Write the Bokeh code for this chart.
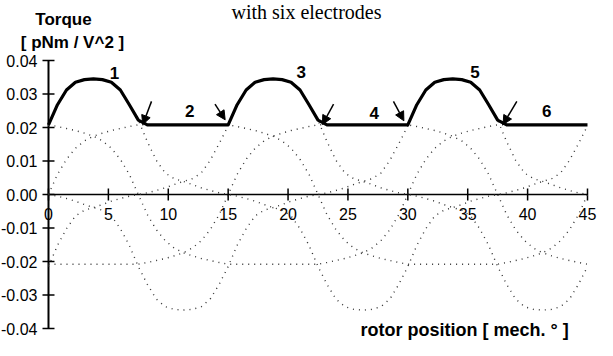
import numpy as np
from bokeh.plotting import figure
from bokeh.models import Range1d, Arrow, NormalHead, ColumnDataSource
from bokeh.core.properties import value
from bokeh.embed import file_html
from bokeh.resources import INLINE

# rotor position [mech. deg]
theta = [0, 0.75, 1.5, 2.25, 3, 3.75, 4.5, 5.25, 6, 6.75,
         7.5, 8.25, 9, 9.75, 10.5, 11.25, 12, 12.75, 13.5, 14.25,
         15, 15.75, 16.5, 17.25, 18, 18.75, 19.5, 20.25, 21, 21.75,
         22.5, 23.25, 24, 24.75, 25.5, 26.25, 27, 27.75, 28.5, 29.25,
         30, 30.75, 31.5, 32.25, 33, 33.75, 34.5, 35.25, 36, 36.75,
         37.5, 38.25, 39, 39.75, 40.5, 41.25, 42, 42.75, 43.5, 44.25,
         45]

# torque of each electrode [pNm / V^2]
e1 = [0.0205, 0.0268, 0.0312, 0.0335, 0.0343, 0.0345, 0.0343, 0.0335, 0.0312, 0.0268,
      0.0222, 0.0158, 0.0102, 0.0064, 0.0047, 0.0039, 0.0030, 0.0020, 0.0012, 0.0005,
      0.0, -0.0005, -0.0012, -0.0020, -0.0030, -0.0039, -0.0047, -0.0064, -0.0102, -0.0152,
      -0.0215, -0.0268, -0.0312, -0.0335, -0.0343, -0.0345, -0.0343, -0.0335, -0.0312, -0.0268,
      -0.0215, -0.0152, -0.0102, -0.0064, -0.0047, -0.0039, -0.0030, -0.0020, -0.0012, -0.0005,
      0.0, 0.0005, 0.0012, 0.0020, 0.0030, 0.0039, 0.0047, 0.0064, 0.0102, 0.0152,
      0.0205]
e3 = [-0.0215, -0.0152, -0.0102, -0.0064, -0.0047, -0.0039, -0.0030, -0.0020, -0.0012, -0.0005,
      0.0, 0.0005, 0.0012, 0.0020, 0.0030, 0.0039, 0.0047, 0.0064, 0.0102, 0.0152,
      0.0205, 0.0268, 0.0312, 0.0335, 0.0343, 0.0345, 0.0343, 0.0335, 0.0312, 0.0268,
      0.0222, 0.0158, 0.0102, 0.0064, 0.0047, 0.0039, 0.0030, 0.0020, 0.0012, 0.0005,
      0.0, -0.0005, -0.0012, -0.0020, -0.0030, -0.0039, -0.0047, -0.0064, -0.0102, -0.0152,
      -0.0215, -0.0268, -0.0312, -0.0335, -0.0343, -0.0345, -0.0343, -0.0335, -0.0312, -0.0268,
      -0.0215]
e5 = [0.0, -0.0005, -0.0012, -0.0020, -0.0030, -0.0039, -0.0047, -0.0064, -0.0102, -0.0152,
      -0.0215, -0.0268, -0.0312, -0.0335, -0.0343, -0.0345, -0.0343, -0.0335, -0.0312, -0.0268,
      -0.0215, -0.0152, -0.0102, -0.0064, -0.0047, -0.0039, -0.0030, -0.0020, -0.0012, -0.0005,
      0.0, 0.0005, 0.0012, 0.0020, 0.0030, 0.0039, 0.0047, 0.0064, 0.0102, 0.0152,
      0.0205, 0.0268, 0.0312, 0.0335, 0.0343, 0.0345, 0.0343, 0.0335, 0.0312, 0.0268,
      0.0222, 0.0158, 0.0102, 0.0064, 0.0047, 0.0039, 0.0030, 0.0020, 0.0012, 0.0005,
      0.0]
e2 = [0.0, 0.0060, 0.0105, 0.0138, 0.0160, 0.0174, 0.0183, 0.0191, 0.0197, 0.0203,
      0.0208, 0.0208, 0.0208, 0.0208, 0.0208, 0.0208, 0.0208, 0.0208, 0.0208, 0.0208,
      0.0208, 0.0203, 0.0197, 0.0191, 0.0183, 0.0174, 0.0160, 0.0138, 0.0105, 0.0060,
      0.0, -0.0060, -0.0105, -0.0138, -0.0160, -0.0174, -0.0183, -0.0191, -0.0197, -0.0203,
      -0.0208, -0.0208, -0.0208, -0.0208, -0.0208, -0.0208, -0.0208, -0.0208, -0.0208, -0.0208,
      -0.0208, -0.0203, -0.0197, -0.0191, -0.0183, -0.0174, -0.0160, -0.0138, -0.0105, -0.0060,
      0.0]
e4 = [-0.0208, -0.0208, -0.0208, -0.0208, -0.0208, -0.0208, -0.0208, -0.0208, -0.0208, -0.0208,
      -0.0208, -0.0203, -0.0197, -0.0191, -0.0183, -0.0174, -0.0160, -0.0138, -0.0105, -0.0060,
      0.0, 0.0060, 0.0105, 0.0138, 0.0160, 0.0174, 0.0183, 0.0191, 0.0197, 0.0203,
      0.0208, 0.0208, 0.0208, 0.0208, 0.0208, 0.0208, 0.0208, 0.0208, 0.0208, 0.0208,
      0.0208, 0.0203, 0.0197, 0.0191, 0.0183, 0.0174, 0.0160, 0.0138, 0.0105, 0.0060,
      0.0, -0.0060, -0.0105, -0.0138, -0.0160, -0.0174, -0.0183, -0.0191, -0.0197, -0.0203,
      -0.0208]
e6 = [0.0208, 0.0203, 0.0197, 0.0191, 0.0183, 0.0174, 0.0160, 0.0138, 0.0105, 0.0060,
      0.0, -0.0060, -0.0105, -0.0138, -0.0160, -0.0174, -0.0183, -0.0191, -0.0197, -0.0203,
      -0.0208, -0.0208, -0.0208, -0.0208, -0.0208, -0.0208, -0.0208, -0.0208, -0.0208, -0.0208,
      -0.0208, -0.0203, -0.0197, -0.0191, -0.0183, -0.0174, -0.0160, -0.0138, -0.0105, -0.0060,
      0.0, 0.0060, 0.0105, 0.0138, 0.0160, 0.0174, 0.0183, 0.0191, 0.0197, 0.0203,
      0.0208, 0.0208, 0.0208, 0.0208, 0.0208, 0.0208, 0.0208, 0.0208, 0.0208, 0.0208,
      0.0208]

yticks = [-0.04, -0.03, -0.02, -0.01, 0.0, 0.01, 0.02, 0.03, 0.04]
ytick_labels = ["-0.04", "-0.03", "-0.02", "-0.01", "0.00", "0.01", "0.02", "0.03", "0.04"]
xticks = [0, 5, 10, 15, 20, 25, 30, 35, 40, 45]
xtick_labels = ["0", "5", "10", "15", "20", "25", "30", "35", "40", "45"]

seg_labels = ["1", "2", "3", "4", "5", "6"]
seg_x = [5.5, 11.8, 21.1, 27.2, 35.6, 41.6]
seg_y = [0.0362, 0.0249, 0.0365, 0.0243, 0.0365, 0.0249]

arrow_x0 = [8.6, 13.9, 23.8, 28.8, 39.1]
arrow_y0 = [0.0278, 0.0270, 0.0270, 0.0278, 0.0278]
arrow_x1 = [7.87, 14.75, 22.87, 29.67, 37.95]
arrow_y1 = [0.0209, 0.0223, 0.0209, 0.0220, 0.0209]

curves = [e1, e2, e3, e4, e5, e6]
envelope = np.max(np.array(curves), axis=0)

SANS = value("Liberation Sans")

# the frame fills the whole canvas; axes are drawn inside it
p = figure(width=597, height=340, x_range=Range1d(-4.007, 45.835), y_range=Range1d(-0.04358, 0.05791),
           output_backend="svg", toolbar_location=None, x_axis_location=None, y_axis_location=None,
           min_border=0)
p.outline_line_color = None
p.grid.visible = False

# y axis at x = 0
p.segment(x0=xticks[0], y0=yticks[0], x1=xticks[0], y1=yticks[-1], line_color="black", line_width=2)
p.scatter(x=[xticks[0]] * len(yticks), y=yticks, marker="dash", size=12,
          line_color="black", line_width=1.5)
p.text(x=[xticks[0]] * len(yticks), y=yticks, text=ytick_labels, x_offset=-11,
       text_align="right", text_baseline="middle", text_font=SANS, text_font_size="16px",
       text_color="black")

# x axis through zero
p.segment(x0=xticks[0], y0=0, x1=xticks[-1], y1=0, line_color="black", line_width=1.5)
p.scatter(x=xticks, y=[0] * len(xticks), marker="dash", angle=np.pi / 2, size=12,
          line_color="black", line_width=1.5)
p.text(x=xticks, y=[0] * len(xticks), text=xtick_labels, y_offset=13,
       text_align="center", text_baseline="top", text_font=SANS, text_font_size="16px",
       text_color="black")

for c in curves:
    p.line(theta, c, line_color="#333333", line_width=1.4, line_dash="1 5")

p.line(theta, envelope, line_color="black", line_width=3.2, line_join="round")

p.text(x=seg_x, y=seg_y, text=seg_labels, text_align="center", text_baseline="middle",
       text_font=SANS, text_font_style="bold", text_font_size="17px", text_color="black")

p.add_layout(Arrow(end=NormalHead(size=9, fill_color="black", line_color="black"),
                   source=ColumnDataSource(dict(x0=arrow_x0, y0=arrow_y0, x1=arrow_x1, y1=arrow_y1)),
                   x_start="x0", y_start="y0", x_end="x1", y_end="y1",
                   line_color="black", line_width=1.5))

p.text(x=[1.252, 2.004], y=[0.05224, 0.04537], text=["Torque", "[ pNm / V^2 ]"], text_font=SANS,
       text_font_style="bold", text_font_size="17px", text_align="center",
       text_baseline="alphabetic", text_color="black")
p.text(x=[15.28], y=[0.05433], text=["with six electrodes"], text_font=value("Liberation Serif"),
       text_font_size="20px", text_baseline="alphabetic", text_color="black")
p.text(x=[26.05], y=[-0.0403], text=["rotor position [ mech. ° ]"], text_font=SANS,
       text_font_style="bold", text_font_size="18px", text_baseline="alphabetic",
       text_color="black")

open("out.html", "w").write(file_html(p, INLINE))
